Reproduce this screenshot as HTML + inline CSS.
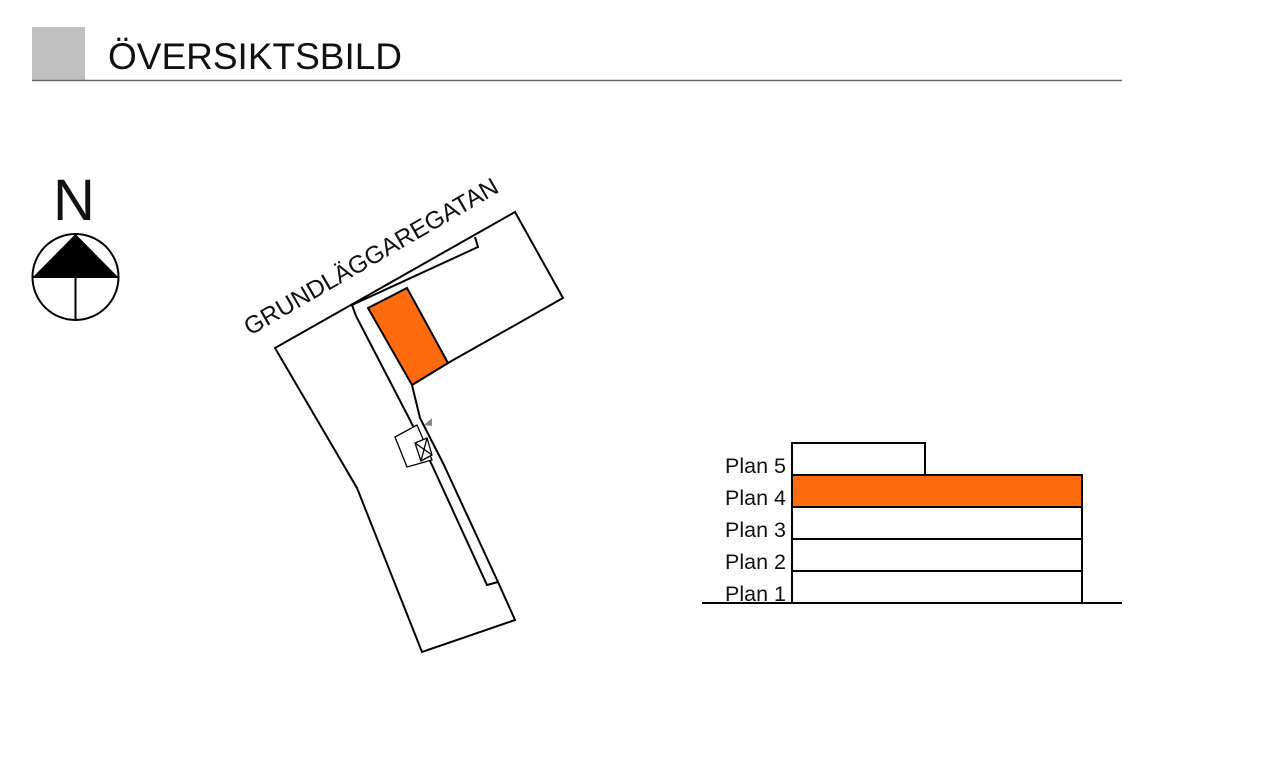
<!DOCTYPE html>
<html><head><meta charset="utf-8"><style>
html,body{margin:0;padding:0;background:#fff;}
body{width:1280px;height:775px;overflow:hidden;}
svg{display:block}
text{font-family:"Liberation Sans",Arial,sans-serif;fill:#111}
</style></head><body>
<svg width="1280" height="775" viewBox="0 0 1280 775">
<rect x="32" y="27" width="53" height="53" fill="#c0c0c0"/>
<line x1="32" y1="80.5" x2="1122" y2="80.5" stroke="#666" stroke-width="1.5"/>
<text x="108" y="69" font-size="37">ÖVERSIKTSBILD</text>

<text x="53" y="220" font-size="58">N</text>
<circle cx="75.5" cy="277" r="43" fill="#fff" stroke="#000" stroke-width="2"/>
<polygon points="75.5,234 33,277 118,277" fill="#000"/>
<line x1="33" y1="277" x2="118" y2="277" stroke="#000" stroke-width="2"/>
<line x1="75.5" y1="277" x2="75.5" y2="320" stroke="#000" stroke-width="2"/>

<g fill="none" stroke="#000" stroke-width="2" stroke-linejoin="miter">
<polygon points="275,348 515,212 563,298 448,363 412,385 420,418 443,463 498,582 515,620 422,652 357,488"/>
<polyline points="475,237 478,247 352,305 356,316 410,420 432,465 487,585 498,582"/>
</g>
<polygon points="368,308 407,288 448,363 412,385" fill="#ff6a0c" stroke="#000" stroke-width="2"/>
<g fill="#fff" stroke="#000" stroke-width="1.3">
<polygon points="395,437 417,425 432,460 407,467"/>
<polygon points="415,443 427,438 432,455 421,461"/>
<line x1="415" y1="443" x2="432" y2="455"/>
<line x1="427" y1="438" x2="421" y2="461"/>
</g>
<polygon points="424,425 432,418 432,426" fill="#888"/>
<text x="0" y="0" font-size="24.5" transform="translate(250,336) rotate(-30)">GRUNDLÄGGAREGATAN</text>

<g stroke="#000" stroke-width="2">
<rect x="792" y="443" width="133" height="32" fill="#fff"/>
<rect x="792" y="475" width="290" height="32" fill="#ff6a0c"/>
<rect x="792" y="507" width="290" height="32" fill="#fff"/>
<rect x="792" y="539" width="290" height="32" fill="#fff"/>
<rect x="792" y="571" width="290" height="32" fill="#fff"/>
<line x1="702" y1="603" x2="1122" y2="603"/>
</g>
<g font-size="21.5" text-anchor="end">
<text x="786" y="473">Plan 5</text>
<text x="786" y="505">Plan 4</text>
<text x="786" y="537">Plan 3</text>
<text x="786" y="569">Plan 2</text>
<text x="786" y="601">Plan 1</text>
</g>
</svg>
</body></html>
